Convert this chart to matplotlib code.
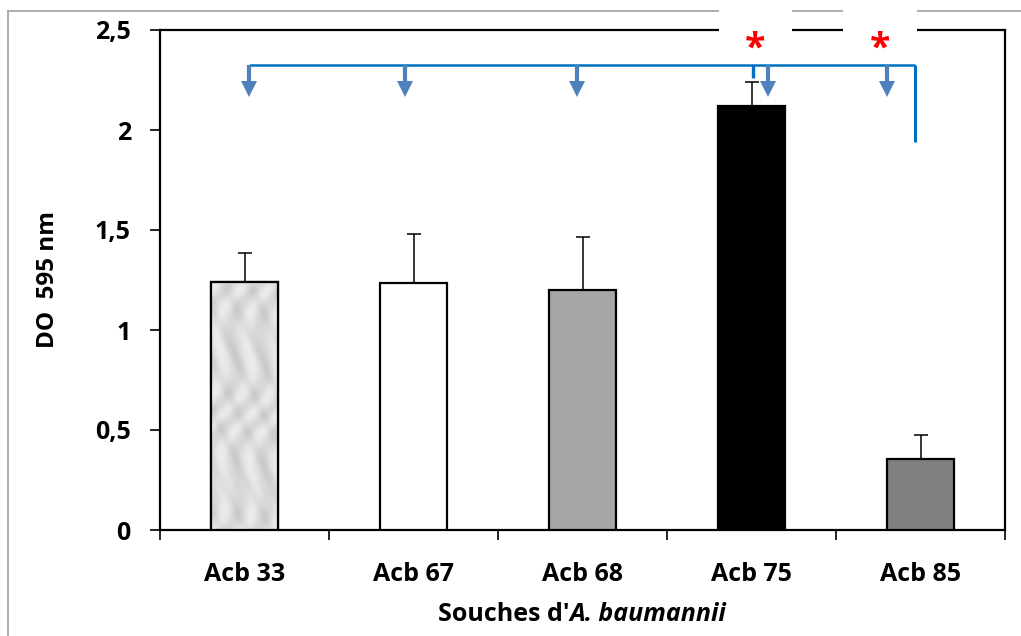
import matplotlib
matplotlib.use("Agg")
import matplotlib.pyplot as plt
import numpy as np
from matplotlib.lines import Line2D
from matplotlib.patches import Rectangle

plt.rcParams['font.family'] = ['Open Sans', 'DejaVu Sans']
plt.rcParams['font.weight'] = 'bold'

# data
strains = ["Acb 33", "Acb 67", "Acb 68", "Acb 75", "Acb 85"]
od_values = [1.24, 1.235, 1.20, 2.12, 0.355]
od_errors = [0.145, 0.245, 0.265, 0.12, 0.12]
bar_colors = ["#dcdde0", "#ffffff", "#a6a6a6", "#000000", "#808080"]
y_ticks = [0, 0.5, 1, 1.5, 2, 2.5]
y_ticklabels = ["0", "0,5", "1", "1,5", "2", "2,5"]

# annotation (bracket / arrows / stars)
arrow_x = [0.024, 0.947, 1.97, 3.10, 3.80]
bracket_y = 2.325
bracket_end_x = 3.97
bracket_drop_y = 1.94
star_x = [3.02, 3.76]
star_y = 2.40
star_boxes = [(2.81, 3.24), (3.54, 3.98)]

fig = plt.figure(figsize=(10.21, 6.36), dpi=100)
ax = fig.add_axes([160 / 1021, 106 / 636, 845 / 1021, 500 / 636])

x = np.arange(len(strains))
bars = ax.bar(x, od_values, width=0.40, color=bar_colors, edgecolor="black",
              linewidth=1.6, zorder=3)
ax.errorbar(x, od_values, yerr=[[0] * len(x), od_errors], fmt="none",
            ecolor="black", elinewidth=1.1, capsize=5, capthick=1.1, zorder=2)

# marble-like texture on the first bar
b0 = bars[0]
gy, gx = np.mgrid[0:200, 0:60]
tex = 0.88 + 0.04 * np.sin(gx / 4.0 + gy / 9.0 + 3 * np.sin(gy / 17.0)) \
    - 0.05 * np.abs(np.sin(gy / 13.0 - gx / 7.0)) ** 4
im = ax.imshow(tex, cmap="gray", vmin=0, vmax=1, aspect="auto",
               extent=(b0.get_x(), b0.get_x() + b0.get_width(), 0, b0.get_height()),
               zorder=3.5, interpolation="bilinear")
im.set_clip_path(b0)
ax.add_patch(Rectangle((b0.get_x(), 0), b0.get_width(), b0.get_height(),
                       fill=False, edgecolor="black", linewidth=1.6, zorder=4))

ax.set_xlim(-0.5, 4.5)
ax.set_ylim(0, 2.5)
ax.set_yticks(y_ticks)
ax.set_yticklabels(y_ticklabels)
ax.set_xticks(np.arange(-0.5, 5, 1))
ax.set_xticklabels([])
ax.set_xticks(x, minor=True)
ax.set_xticklabels(strains, minor=True)
ax.tick_params(axis="x", which="major", direction="out", length=7, width=1.2)
ax.tick_params(axis="x", which="minor", length=0, pad=23, labelsize=18)
ax.tick_params(axis="y", direction="out", length=7, width=1.2, pad=14, labelsize=18)
for s in ax.spines.values():
    s.set_linewidth(1.6)

ax.set_ylabel("DO  595 nm", fontsize=17.5, fontweight="bold")
ax.yaxis.set_label_coords(-0.118, 0.5)

# bracket and arrows
blue_line = "#0070c0"
blue_arrow = "#4f81bd"
ax.plot([arrow_x[0], bracket_end_x], [bracket_y, bracket_y], color=blue_line,
        lw=1.8, clip_on=False, zorder=5, solid_capstyle="butt")
ax.plot([bracket_end_x, bracket_end_x], [bracket_y, bracket_drop_y], color=blue_line,
        lw=2.2, clip_on=False, zorder=5, solid_capstyle="butt")
ax.plot([3.01, 3.01], [bracket_y, 2.262], color=blue_line, lw=2.4,
        clip_on=False, zorder=5, solid_capstyle="butt")
for xa in arrow_x:
    ax.plot([xa, xa], [bracket_y, 2.23], color=blue_arrow, lw=3.0,
            zorder=5, solid_capstyle="butt")
    ax.plot([xa], [2.2075], marker="v", ms=11, color=blue_arrow,
            markeredgewidth=0, zorder=5)

# white boxes breaking the frame, with stars
for x0, x1 in star_boxes:
    ax.add_patch(Rectangle((x0, 2.38), x1 - x0, 0.4, facecolor="white",
                           edgecolor="none", clip_on=False, zorder=10))
for xs in star_x:
    ax.text(xs, star_y, "*", color="red", fontsize=27, fontweight="bold",
            ha="center", va="center", zorder=11, clip_on=False)

# x label with italic species name
fig.canvas.draw()
r = fig.canvas.get_renderer()
label_y = 15 / 636
t1 = fig.text(0, label_y, "Souches d'", fontsize=18, fontweight="bold",
              ha="left", va="baseline")
t2 = fig.text(0, label_y, "A. baumannii", fontsize=18, fontweight="bold",
              style="italic", ha="left", va="baseline")
w1 = t1.get_window_extent(r).width
w2 = t2.get_window_extent(r).width
cx = (160 + 1005) / 2 / 1021 * fig.bbox.width
start = cx - (w1 + w2) / 2
t1.set_x(start / fig.bbox.width)
t2.set_x((start + w1) / fig.bbox.width)

# outer chart frame
fig.add_artist(Line2D([8 / 1021, 8 / 1021], [0, 1 - 11 / 636], color="#a0a0a0",
                      lw=1.2, zorder=-1))
fig.add_artist(Line2D([8 / 1021, 1], [1 - 11 / 636, 1 - 11 / 636], color="#a0a0a0",
                      lw=1.2, zorder=-1))

fig.savefig("out.png", dpi=100)
